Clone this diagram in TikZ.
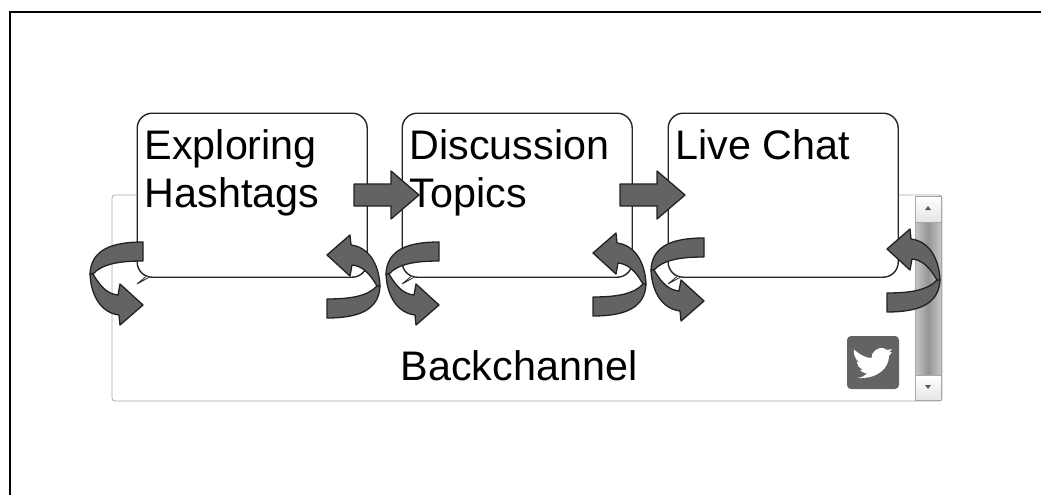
\documentclass[tikz,border=0pt]{standalone}
\usepackage{fontspec}
\setmainfont{Liberation Sans}
\usetikzlibrary{shadings}

\definecolor{arrowgray}{HTML}{636363}
\definecolor{outlinegray}{HTML}{222222}
\definecolor{framegray}{HTML}{A8A8A8}

\tikzset{
    chatbox/.style={draw=black!85, fill=white, line width=1.4pt, rounded corners=15pt, inner sep=0pt, minimum width=230pt, minimum height=164pt, anchor=north west},
    chattext/.style={inner sep=0pt, anchor=north west, align=left, font=\fontsize{41.3}{48}\selectfont},
    chattail/.style={draw=black!85, fill=white, line width=0.8pt},
    blockarrow/.style={draw=outlinegray, fill=arrowgray, line width=1.3pt, line join=round},
    scrollbutton/.style={draw=framegray, top color=white, bottom color=black!10, line width=0.7pt},
    pics/curl/.style={code={
        % lower band with the tail
        \draw[blockarrow] (0,0) .. controls (24,0) and (41,-3) .. (50,-13) -- (53,-13) .. controls (52,12) and (30,19) .. (0,19) -- cycle;
        % upper band with the head
        \draw[blockarrow] (50,-13) .. controls (43,-25) and (36,-33) .. (25,-34) -- (23,-23) -- (0,-44) -- (23,-64) -- (24,-54) .. controls (41,-52) and (52,-36) .. (53,-13) -- cycle;
    }},
    pics/push/.style={code={
        \draw[blockarrow] (0,-11) -- (37,-11) -- (37,-24) -- (65,0) -- (37,24) -- (37,11) -- (0,11) -- cycle;
    }},
}

\begin{document}
\begin{tikzpicture}[x=1pt,y=-1pt]
    \useasboundingbox (0,0) rectangle (1041,495);

    % frame
    \draw[line width=2pt] (10,495) -- (10,12) -- (1041,12);

    % backchannel
    \draw[draw=framegray, line width=0.8pt, rounded corners=3pt] (112,195) rectangle (942,401);
    \node[font=\fontsize{41.3}{48}\selectfont] (backchannel) at (519,366) {Backchannel};
    \draw[draw=framegray, line width=0.7pt, left color=black!22, right color=black!22, middle color=black!42] (915,222) rectangle (941,375);
    \draw[scrollbutton] (915,196) rectangle (941,222);
    \draw[scrollbutton] (915,375) rectangle (941,400);
    \fill[black!65] (925,210) -- (928,206) -- (931,210) -- cycle;
    \fill[black!65] (925,385) -- (928,389) -- (931,385) -- cycle;

    % twitter
    \fill[arrowgray, rounded corners=4pt] (847,336) rectangle (899,389);
    \fill[white] (854,349.5) .. controls (860,355) and (866,358) .. (871.5,358)
        .. controls (871,352) and (878,347) .. (883,348) -- (887,350) -- (892,349) -- (889,352.5) -- (892,352) -- (889,356)
        .. controls (889,367) and (879,379) .. (858,378) .. controls (862,377) and (865,376) .. (867,373.5)
        .. controls (863,373) and (861,371) .. (860,370) -- (863,369.5) .. controls (859,368) and (857,365) .. (856.7,361.7) -- (859.5,362.5) .. controls (855,359) and (853,354) .. (854,349.5) -- cycle;

    % boxes
    \node[chatbox] (exploring) at (136.5,112.5) {};
    \node[chatbox] (discussion) at (401.5,112.5) {};
    \node[chatbox] (livechat) at (667.5,112.5) {};
    \foreach \x in {137,402,668}
        \draw[chattail] (\x+9,276.5) -- (\x,284) -- (\x+12,277.3);

    % arrows between the boxes
    \pic at (354,195) {push};
    \pic at (620,195) {push};

    % curls on the left
    \pic[rotate=180] at (143,261) {curl};
    \pic[rotate=180] at (439,261) {curl};
    \pic[rotate=180] at (704,257) {curl};

    % curls on the right
    \pic at (327,299) {curl};
    \pic at (593,297) {curl};
    \pic at (887,293) {curl};

    % box texts
    \node[chattext] (exploringtext) at (144.5,129) {Exploring\\Hashtags};
    \node[chattext] (discussiontext) at (409.5,129) {Discussion\\Topics};
    \node[chattext] (livechattext) at (675.5,129) {Live Chat};
\end{tikzpicture}
\end{document}
